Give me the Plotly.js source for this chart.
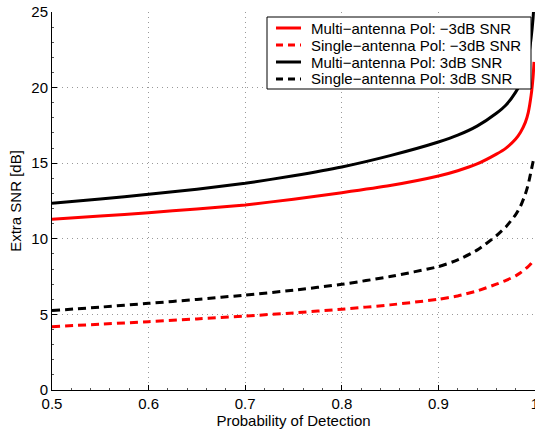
<!DOCTYPE html>
<html>
<head>
<meta charset="utf-8">
<script src="https://cdn.plot.ly/plotly-3.0.1.min.js"></script>
<style>html,body{margin:0;padding:0;background:#fff;}#chart{width:535px;height:429px;}</style>
</head>
<body>
<div id="chart"></div>
<script>
const pd = [0.5, 0.55, 0.6, 0.65, 0.7, 0.75, 0.8, 0.85, 0.9, 0.92, 0.94, 0.96, 0.97, 0.98, 0.985, 0.99, 0.993, 0.996, 0.998, 0.999];
const multiM3 = [11.29, 11.5, 11.73, 11.97, 12.24, 12.62, 13.05, 13.52, 14.15, 14.5, 14.95, 15.6, 16.0, 16.6, 17.05, 17.7, 18.35, 19.5, 20.7, 21.7];
const singleM3 = [4.19, 4.35, 4.52, 4.7, 4.89, 5.1, 5.34, 5.63, 6.0, 6.22, 6.55, 7.0, 7.25, 7.55, 7.75, 8.0, 8.17, 8.37, 8.52, 8.62];
const multiP3 = [12.35, 12.63, 12.94, 13.28, 13.67, 14.17, 14.75, 15.5, 16.4, 16.85, 17.45, 18.3, 18.85, 19.7, 20.3, 21.2, 22.0, 23.3, 24.6, 25.6];
const singleP3 = [5.25, 5.48, 5.73, 5.99, 6.28, 6.6, 6.99, 7.5, 8.16, 8.6, 9.25, 10.2, 10.8, 11.6, 12.15, 12.95, 13.6, 14.5, 15.1, 15.4];
const names = ["Multi\u2212antenna Pol: \u22123dB SNR", "Single\u2212antenna Pol: \u22123dB SNR", "Multi\u2212antenna Pol: 3dB SNR", "Single\u2212antenna Pol: 3dB SNR"];
const xTicks = [0.5, 0.6, 0.7, 0.8, 0.9, 1];
const xTickText = ["0.5", "0.6", "0.7", "0.8", "0.9", "1"];
const yTicks = [0, 5, 10, 15, 20, 25];

const series = [multiM3, singleM3, multiP3, singleP3];
const colors = ["#ff0000", "#ff0000", "#000000", "#000000"];
const dashes = ["solid", "8px,5px", "solid", "8px,5px"];

const traces = series.map((ys, i) => ({
  x: pd, y: ys, name: names[i], type: "scatter", mode: "lines", showlegend: false,
  line: {color: colors[i], width: 3, dash: dashes[i], shape: "spline", smoothing: 0.5}
}));

// legend box (drawn by hand so the row spacing matches the MATLAB legend)
const W = 535, H = 429, M = {l: 52, r: 0, t: 12, b: 39};
const pw = W - M.l - M.r, ph = H - M.t - M.b;
const px = v => (v - M.l) / pw;
const py = v => (H - M.b - v) / ph;
const shapes = [{type: "rect", xref: "paper", yref: "paper", x0: px(267), x1: px(531), y0: py(89), y1: py(17),
  line: {color: "#000", width: 1}, fillcolor: "#fff", layer: "above"}];
const annotations = [];
const rowY = [28, 45, 62, 79];
const fam = "Liberation Sans, Arial, sans-serif";
names.forEach((n, i) => {
  shapes.push({type: "line", xref: "paper", yref: "paper", x0: px(276), x1: px(301), y0: py(rowY[i]), y1: py(rowY[i]),
    line: {color: colors[i], width: 3, dash: dashes[i] === "solid" ? "solid" : "7px,5px"}, layer: "above"});
  annotations.push({xref: "paper", yref: "paper", x: px(309), y: py(rowY[i]), xanchor: "left", yanchor: "middle",
    text: n, showarrow: false, font: {family: fam, size: 15, color: "#000"}});
});

const layout = {
  width: W, height: H,
  margin: {l: M.l, r: M.r, t: M.t, b: M.b, pad: 0},
  paper_bgcolor: "#fff", plot_bgcolor: "#fff",
  font: {family: fam, size: 15, color: "#000"},
  showlegend: false,
  shapes: shapes,
  annotations: annotations,
  xaxis: {
    range: [0.5, 1], tickvals: xTicks, ticktext: xTickText,
    showline: true, linecolor: "#000", linewidth: 1, mirror: false,
    ticks: "inside", ticklen: 5, tickcolor: "#000",
    showgrid: true, gridcolor: "#999", griddash: "1px,4px", gridwidth: 1,
    zeroline: false, automargin: false, ticklabeloverflow: "allow",
    minor: {ticks: "inside", ticklen: 2, tickcolor: "#555", dtick: 0.02, showgrid: false},
    tickfont: {family: fam, size: 15, color: "#000"},
    title: {text: "Probability of Detection", font: {family: fam, size: 15, color: "#000"}, standoff: 1}
  },
  yaxis: {
    range: [0, 25], tickvals: yTicks,
    showline: true, linecolor: "#000", linewidth: 1, mirror: false,
    ticks: "inside", ticklen: 5, tickcolor: "#000",
    showgrid: true, gridcolor: "#999", griddash: "1px,4px", gridwidth: 1,
    zeroline: false, automargin: false, ticklabeloverflow: "allow",
    minor: {ticks: "inside", ticklen: 2, tickcolor: "#555", dtick: 1, showgrid: false},
    tickfont: {family: fam, size: 15, color: "#000"},
    title: {text: "Extra SNR [dB]", font: {family: fam, size: 15, color: "#000"}, standoff: 6}
  }
};

Plotly.newPlot("chart", traces, layout, {staticPlot: true, displayModeBar: false});
</script>
</body>
</html>
